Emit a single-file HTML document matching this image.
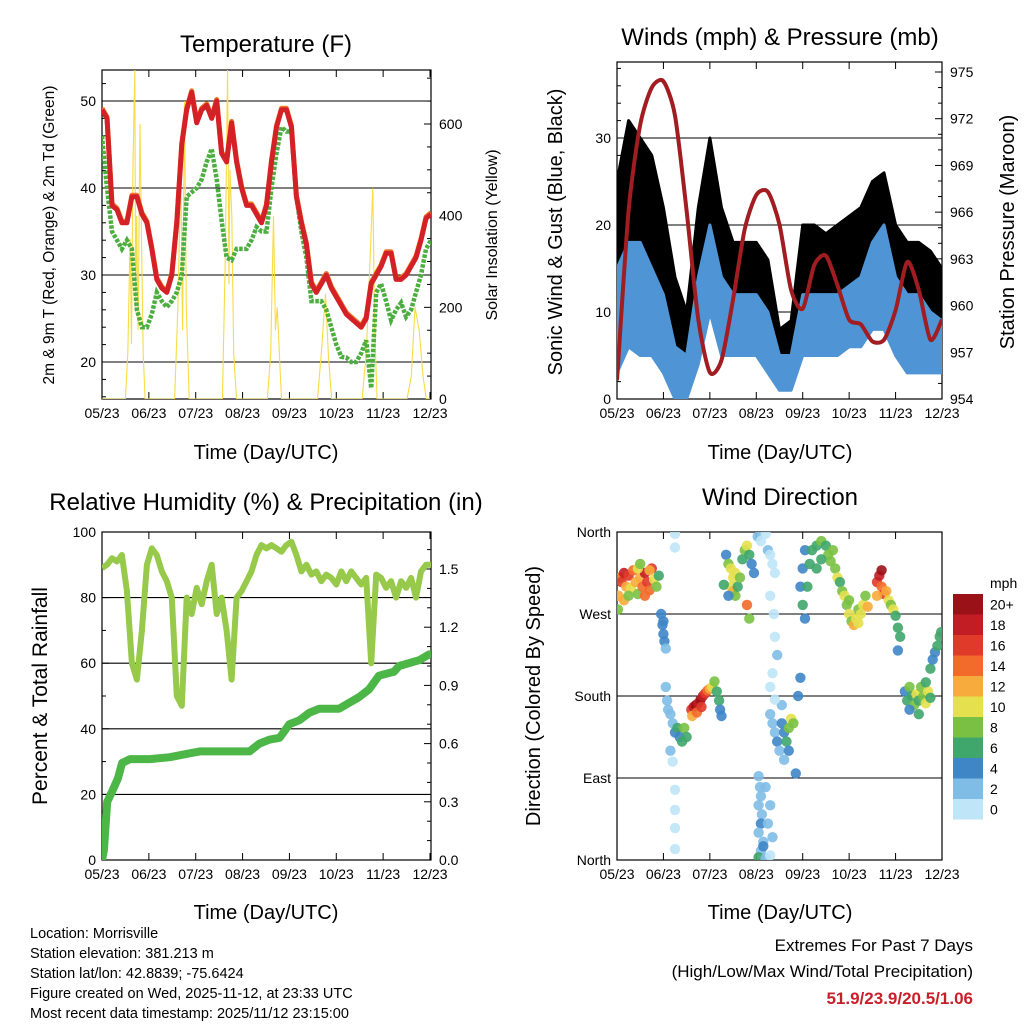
<!DOCTYPE html>
<html><head><meta charset="utf-8"><style>
html,body{margin:0;padding:0;background:#fff;}
svg{display:block;font-family:"Liberation Sans",sans-serif;}
</style></head><body>
<svg id="s" width="1024" height="1024" viewBox="0 0 1024 1024" xmlns="http://www.w3.org/2000/svg">
<defs>
<clipPath id="c1"><rect x="102" y="70" width="329" height="329"/></clipPath>
<clipPath id="c2"><rect x="617" y="62" width="325" height="337"/></clipPath>
<clipPath id="c3"><rect x="102" y="532" width="329" height="328"/></clipPath>
<clipPath id="c4"><rect x="617" y="532" width="325" height="328"/></clipPath>
</defs>
<g font-size="24" text-anchor="middle" fill="#000">
<text x="266" y="52">Temperature (F)</text>
<text x="780" y="45">Winds (mph) &amp; Pressure (mb)</text>
<text x="266" y="510">Relative Humidity (%) &amp; Precipitation (in)</text>
<text x="780" y="505">Wind Direction</text>
</g>
<g font-size="20" text-anchor="middle">
<text x="266" y="459">Time (Day/UTC)</text>
<text x="780" y="459">Time (Day/UTC)</text>
<text x="266" y="919">Time (Day/UTC)</text>
<text x="780" y="919">Time (Day/UTC)</text>
<text transform="translate(54,235) rotate(-90)" font-size="15.5">2m &amp; 9m T (Red, Orange) &amp; 2m Td (Green)</text>
<text transform="translate(497,235) rotate(-90)" font-size="16">Solar Insolation (Yellow)</text>
<text transform="translate(562,232) rotate(-90)">Sonic Wind &amp; Gust (Blue, Black)</text>
<text transform="translate(1014,232) rotate(-90)">Station Pressure (Maroon)</text>
<text transform="translate(47,696) rotate(-90)" font-size="21">Percent &amp; Total Rainfall</text>
<text transform="translate(540,696) rotate(-90)">Direction (Colored By Speed)</text>
</g>
<g font-size="14.5">
<text x="30" y="938">Location: Morrisville</text>
<text x="30" y="958">Station elevation: 381.213 m</text>
<text x="30" y="978">Station lat/lon: 42.8839; -75.6424</text>
<text x="30" y="998">Figure created on Wed, 2025-11-12, at 23:33 UTC</text>
<text x="30" y="1018">Most recent data timestamp: 2025/11/12 23:15:00</text>
</g>
<g font-size="17" text-anchor="end">
<text x="973" y="951">Extremes For Past 7 Days</text>
<text x="973" y="977">(High/Low/Max Wind/Total Precipitation)</text>
<text x="973" y="1004" fill="#c8202a" font-weight="bold">51.9/23.9/20.5/1.06</text>
</g>
</svg>
<script>
// ---------- DATA ----------
const xTickLabels = ["05/23","06/23","07/23","08/23","09/23","10/23","11/23","12/23"];
const sampleStep = 5/47; // days between samples
const tempRed = [49,48,38,37.5,36,36,39,39,37,36,33,29.5,28.5,28,30,36,45,49,51,47.5,49,49.5,48,50,44,43,47.5,43,40,38,38,37,36,38,43,47,49,49,47,39,36,33.5,29,28,29,30,28.5,27.5,26.5,25.5,25,24.5,24,25,29,30,31,32.5,32.5,29.5,29.5,30,31,32,34,36.5,37];
const dewGreen = [46,40,35,34,33,34,33,26,24,24,25.5,28,27,26.3,27,28,30,39,39.5,40,41,43,44.5,41,36.3,32,31.7,33,33,33,34,35.5,35,35,40,44,47,46.5,46.5,39,35,32,27,27,27,26,24,22,20.6,20.5,20,20,21,22.5,17,28,29,27,24.8,26,26.8,25.2,26,28,30,33,34];
const solarDays = [0,0.5,0.55,0.6,0.63,0.66,0.7,0.72,0.74,0.77,0.81,0.85,0.88,0.92,1.55,1.62,1.68,1.72,1.76,1.8,1.86,2.57,2.63,2.68,2.71,2.73,2.77,2.81,2.87,3.53,3.6,3.66,3.7,3.74,3.83,4.6,4.68,4.77,4.83,4.9,5.55,5.64,5.7,5.78,5.82,5.87,6.51,6.6,6.68,6.77,6.85,6.92,7];
const solarVals = [0,0,100,350,120,500,720,200,400,150,600,300,100,0,0,200,500,150,650,200,0,0,300,720,250,500,400,100,0,0,100,400,150,200,0,0,100,230,100,0,0,100,250,460,150,0,0,50,200,150,50,0,0];
const tempTicks = [20,30,40,50];
const solarTicks = [0,200,400,600];

const windStep = 0.25;
const gustLo = [10,15,15,15,10,4,3,10,18,10,8,8,8,6,3,3,8,8,8,8,10,10,12,12,10,6,6,6,6];
const gustHi = [25,32,30,28,22,14,10,22,30,22,18,18,18,16,8,9,20,20,19,20,21,22,25,26,20,18,18,17,15];
const windLo = [3,6,5,5,3,0,0,4,10,5,5,5,5,3,1,1,5,5,5,5,6,6,8,8,5,3,3,3,3];
const windHi = [15,18,18,15,12,6,5,14,20,14,12,12,12,10,5,5,12,12,12,12,13,14,18,20,14,12,12,10,9];
const pressure = [955.2,966.1,971.6,974.0,974.4,972.2,966.1,959.1,955.7,956.5,960.4,964.9,967.1,967.3,965.2,961.0,959.8,962.6,963.2,961.3,959.1,958.8,957.7,957.8,959.7,962.8,961.0,957.8,959.1];
const windTicks = [0,10,20,30];
const pressTicks = [954,957,960,963,966,969,972,975];

const rhVals = [89,90,92,91,93,82,60,55,70,90,95,93,88,85,80,50,47,80,75,83,78,85,90,75,80,70,55,80,82,85,88,93,96,95,96,95,94,96,97,93,88,90,87,88,85,87,86,84,88,85,88,86,84,86,60,87,86,83,85,80,85,83,86,80,88,90,90];
const precipDays = [0,0.04,0.11,0.21,0.34,0.43,0.6,1.02,1.45,1.87,2.09,3.15,3.36,3.57,3.79,4.0,4.21,4.43,4.64,5.06,5.49,5.7,5.91,6.23,6.34,6.77,6.98];
const precipVals = [0,0.05,0.3,0.35,0.42,0.5,0.52,0.52,0.53,0.55,0.56,0.56,0.6,0.62,0.63,0.7,0.72,0.76,0.78,0.78,0.84,0.88,0.95,0.97,1.0,1.03,1.06];
const rhTicks = [0,20,40,60,80,100];
const precipTicks = ["0.0","0.3","0.6","0.9","1.2","1.5"];

const dirPoints = [
[0.05,310,14],[0.1,305,16],[0.15,315,18],[0.2,300,12],[0.25,312,16],[0.3,298,10],[0.35,318,14],[0.4,305,12],[0.45,292,8],[0.5,310,12],[0.55,300,14],[0.6,315,18],[0.65,305,16],[0.7,296,14],[0.75,320,16],[0.8,308,10],[0.85,300,8],[0.9,312,6],[0.02,275,8],[0.03,290,12],[0.15,285,12],[0.25,290,8],[0.45,320,10],[0.6,290,14],[0.7,318,12],[0.5,325,8],
[0.95,270,4],[0.98,258,4],[1.0,248,4],[1.02,240,4],[1.05,232,2],[1.0,262,4],
[1.25,358,0],[1.25,343,0],[1.25,77,0],[1.25,55,0],[1.25,35,0],[1.25,12,0],
[1.05,190,2],[1.08,175,2],[1.1,165,2],[1.15,160,2],[1.2,150,2],[1.25,140,4],[1.3,145,6],[1.35,135,4],[1.4,130,6],[1.45,145,8],[1.5,135,6],[1.15,120,2],[1.2,108,0],
[1.6,165,16],[1.65,168,18],[1.7,170,20],[1.75,172,18],[1.8,176,20],[1.85,180,18],[1.9,183,16],[1.95,186,14],[2.0,188,12],[2.05,190,10],[1.62,158,12],[1.72,162,14],[1.82,168,16],
[2.1,196,8],[2.15,185,6],[2.2,175,6],[2.22,165,4],[2.25,158,4],
[2.35,335,4],[2.4,325,8],[2.45,320,10],[2.5,310,10],[2.55,315,10],[2.45,300,10],[2.5,295,12],[2.55,290,8],[2.6,300,6],[2.65,310,8],[2.7,330,6],[2.75,340,8],[2.8,345,10],[2.85,335,6],[2.9,325,4],[2.95,315,4],[2.8,280,14],[2.85,265,8],[2.4,290,4],[2.3,302,6],
[3.03,355,2],[3.1,350,0],[3.2,358,0],[3.25,340,2],[3.3,335,0],[3.35,325,0],[3.4,315,0],[3.3,290,0],[3.38,270,0],[3.4,245,0],[3.45,225,2],[3.35,205,0],[3.3,190,0],[3.05,92,2],[3.08,80,2],[3.1,70,2],[3.05,60,2],[3.12,50,2],[3.1,40,4],[3.05,30,2],[3.15,20,2],[3.1,10,2],[3.05,3,6],[3.2,2,2],[3.3,60,2],[3.25,40,2],[3.35,25,2],[3.2,80,2],[3.3,5,0],[3.15,15,4],
[3.3,160,2],[3.35,150,2],[3.4,140,2],[3.45,130,4],[3.5,120,2],[3.55,150,4],[3.6,140,4],[3.65,130,6],[3.7,145,8],[3.75,155,10],[3.8,150,8],[3.7,120,4],[3.6,110,2],[3.55,170,2],[3.85,95,4],[3.9,180,4],[3.4,176,0],
[3.95,300,4],[4.0,320,4],[4.05,340,4],[4.0,280,6],[4.05,265,4],[4.1,300,6],[4.15,325,6],[4.2,340,6],[4.3,345,6],[4.4,350,8],[4.5,345,6],[4.55,335,8],[4.6,328,8],[4.7,320,8],[4.75,310,10],[4.8,305,6],[4.85,295,8],[4.4,330,6],[4.3,320,6],[4.65,340,8],[3.95,200,4],
[4.9,290,10],[4.95,280,8],[5.0,270,10],[5.05,262,8],[5.1,258,12],[5.15,265,10],[5.2,275,8],[5.25,270,10],[5.3,280,10],[5.35,290,8],[5.4,278,12],[5.0,285,8],[5.2,260,10],
[5.6,305,16],[5.65,312,18],[5.7,300,14],[5.75,292,16],[5.8,295,12],[5.85,285,10],[5.9,280,8],[5.95,275,10],[5.7,318,20],[5.6,290,12],
[6.0,268,6],[6.05,255,6],[6.1,245,6],[6.05,230,4],
[6.2,185,4],[6.25,175,6],[6.3,190,8],[6.35,180,6],[6.4,170,8],[6.45,182,10],[6.5,175,6],[6.55,190,8],[6.6,180,8],[6.65,172,10],[6.7,185,10],[6.75,178,6],[6.5,160,6],[6.65,195,6],[6.3,165,4],
[6.75,210,6],[6.8,220,4],[6.85,228,4],[6.9,235,6],[6.95,245,6],[6.98,250,6]];
const dirTicks = ["North","East","South","West","North"];
const speedBins = ["0","2","4","6","8","10","12","14","16","18","20+"];
const speedColors = ["#bfe6f8","#7fbde6","#3f86c6","#3fa66c","#7ac143","#e4e04e","#f7ab3c","#f26b2a","#e03a2b","#c21d24","#9a1217"];

// ---------- HELPERS ----------
const S = document.getElementById('s');
const NS = 'http://www.w3.org/2000/svg';
function mk(tag, attrs, parent){ const e=document.createElementNS(NS,tag); for(const k in attrs) e.setAttribute(k,attrs[k]); (parent||S).appendChild(e); return e; }
function lin(d0,d1,r0,r1){ return v => r0+(v-d0)/(d1-d0)*(r1-r0); }
function pathOf(xs, ys){ return xs.map((x,i)=>(i?'L':'M')+x.toFixed(1)+','+ys[i].toFixed(1)).join(''); }

function frame(x0,y0,x1,y1,xs,name){
  const g = mk('g',{});
  
  
  mk('rect',{x:x0,y:y0,width:x1-x0,height:y1-y0,fill:'none',stroke:'#000','stroke-width':1.2},g);
  xTickLabels.forEach((lab,i)=>{
    const x = xs(i);
    mk('line',{x1:x,x2:x,y1:y1,y2:y1-7,stroke:'#000'},g);
    mk('line',{x1:x,x2:x,y1:y0,y2:y0+7,stroke:'#000'},g);
    const t = mk('text',{x:x,y:y1+19,'font-size':14,'text-anchor':'middle'},g);
    t.textContent = lab;
    
    
  });
  return g;
}
function yAxis(g, ticks, ys, side, x, labels, minor){
  ticks.forEach((v,i)=>{
    const y = ys(v);
    mk('line',{x1:x,x2:x+(side==='l'?7:-7),y1:y,y2:y,stroke:'#000'},g);
    const t = mk('text',{x: side==='l'? x-6 : x+8, y:y+5,'font-size':14,'text-anchor':side==='l'?'end':'start'},g);
    t.textContent = labels ? labels[i] : v;
    
    
  });
  if(minor) minor.forEach(v=>{ const y=ys(v); mk('line',{x1:x,x2:x+(side==='l'?4:-4),y1:y,y2:y,stroke:'#000'},g); });
}
function grid(g, ticks, ys, x0, x1){
  ticks.forEach(v=>{ const y=ys(v); mk('line',{x1:x0,x2:x1,y1:y,y2:y,stroke:'#000','stroke-width':1.1},g); });
}

// ---------- PANEL 1: TEMPERATURE ----------
{
  const xs = lin(0,7,102,430), yT = lin(20,50,362,101), yS = lin(0,600,399,124);
  const g = frame(102,70,431,399, d=>xs(d), 'temperature');
  const gd = mk('g',{'clip-path':'url(#c1)'});
  
  
  grid(gd,tempTicks,yT,102,431);
  const sol = mk('path',{d:pathOf(solarDays.map(xs), solarVals.map(yS)),fill:'none',stroke:'#f7dc45','stroke-width':1.1},gd);
  
  
  const tx = tempRed.map((v,i)=>xs(i*sampleStep));
  const dx = dewGreen.map((v,i)=>xs(i*sampleStep));
  const dw = mk('path',{d:pathOf(dx, dewGreen.map(yT)),fill:'none',stroke:'#4cae3f','stroke-width':4.5,'stroke-dasharray':'3.5 1.5'},gd);
  
  
  const or = mk('path',{d:pathOf(tx, tempRed.map(v=>yT(v)-1.5)),fill:'none',stroke:'#f07c2a','stroke-width':5,'stroke-linejoin':'round'},gd);
  
  
  const rd = mk('path',{d:pathOf(tx, tempRed.map(yT)),fill:'none',stroke:'#d42027','stroke-width':5,'stroke-linejoin':'round'},gd);
  
  
  const minorT=[]; for(let v=16;v<=53;v+=2) if(v%10) minorT.push(v);
  yAxis(g,tempTicks,yT,'l',102,null,minorT);
  const minorS=[]; for(let v=50;v<=700;v+=50) if(v%200) minorS.push(v);
  yAxis(g,solarTicks,yS,'r',431,null,minorS);
}
// ---------- PANEL 2: WINDS ----------
{
  const xs = lin(0,7,617,942), yW = lin(0,30,399,138), yP = lin(954,975,399,72);
  const g = frame(617,62,942,399, d=>xs(d), 'winds');
  const gd = mk('g',{'clip-path':'url(#c2)'});
  
  
  grid(gd,windTicks,yW,617,942);
  const wx = gustLo.map((v,i)=>xs(i*windStep));
  const band=(lo,hi,col,name)=>{
    const d = pathOf(wx, hi.map(yW)) + pathOf(wx.slice().reverse(), lo.map(yW).reverse()).replace('M','L') + 'Z';
    const p = mk('path',{d:d,fill:col,stroke:col,'stroke-width':3,'stroke-linejoin':'round'},gd);
    
    
  };
  band(gustLo,gustHi,'#000','gust-points');
  band(windLo,windHi,'#4f94d4','wind-speed-points');
  const px = pressure.map((v,i)=>xs(i*windStep)), py = pressure.map(yP);
  let d='M'+px[0]+','+py[0];
  const k = 8;
  for(let i=0;i<px.length-1;i++){
    const p0=i?i-1:i, p3=i+2<px.length?i+2:i+1;
    const c1x=px[i]+(px[i+1]-px[p0])/k, c1y=py[i]+(py[i+1]-py[p0])/k;
    const c2x=px[i+1]-(px[p3]-px[i])/k, c2y=py[i+1]-(py[p3]-py[i])/k;
    d+=`C${c1x.toFixed(1)},${c1y.toFixed(1)} ${c2x.toFixed(1)},${c2y.toFixed(1)} ${px[i+1].toFixed(1)},${py[i+1].toFixed(1)}`;
  }
  const pr = mk('path',{d:d,fill:'none',stroke:'#a11d21','stroke-width':4},gd);
  
  
  const mW=[]; for(let v=2;v<=38;v+=2) if(v%10) mW.push(v);
  yAxis(g,windTicks,yW,'l',617,null,mW);
  const mP=[]; for(let v=954;v<=975;v++) if((v-954)%3) mP.push(v);
  yAxis(g,pressTicks,yP,'r',942,null,mP);
}
// ---------- PANEL 3: HUMIDITY ----------
{
  const xs = lin(0,7,102,430), yR = lin(0,100,860,532), yQ = lin(0,1.5,860,569);
  const g = frame(102,532,431,860, d=>xs(d), 'humidity');
  const gd = mk('g',{'clip-path':'url(#c3)'});
  
  
  grid(gd,rhTicks,yR,102,431);
  const rh = mk('path',{d:pathOf(rhVals.map((v,i)=>xs(i*sampleStep)), rhVals.map(yR)),fill:'none',stroke:'#97c94b','stroke-width':6,'stroke-linejoin':'round'},gd);
  
  
  const pp = mk('path',{d:pathOf(precipDays.map(xs), precipVals.map(yQ)),fill:'none',stroke:'#4cb647','stroke-width':8,'stroke-linejoin':'round','stroke-linecap':'round'},gd);
  
  
  const mR=[]; for(let v=10;v<100;v+=10) if(v%20) mR.push(v);
  yAxis(g,rhTicks,yR,'l',102,null,mR);
  const mQ=[]; for(let v=0.1;v<1.7;v+=0.1){ const r=Math.round(v*10); if(r%3) mQ.push(r/10); }
  yAxis(g,precipTicks.map(Number),yQ,'r',431,precipTicks,mQ);
}
// ---------- PANEL 4: WIND DIRECTION ----------
{
  const xs = lin(0,7,617,942), yD = lin(0,360,860,532);
  const g = frame(617,532,942,860, d=>xs(d), 'direction');
  const gd = mk('g',{'clip-path':'url(#c4)'});
  
  
  grid(gd,[0,90,180,270,360],yD,617,942);
  dirPoints.forEach(p=>{
    const bin = Math.min(10, Math.round(p[2]/2));
    const c = mk('circle',{cx:xs(p[0]).toFixed(1),cy:yD(p[1]).toFixed(1),r:5.2,fill:speedColors[bin],'fill-opacity':0.9},gd);
    
    
  });
  yAxis(g,[0,90,180,270,360],yD,'l',617,dirTicks,null);
  const cb = mk('g',{});
  
  
  const h=20.5, top=594;
  const t0 = mk('text',{x:990,y:588,'font-size':14},cb); t0.textContent='mph';
  speedBins.slice().reverse().forEach((lab,i)=>{
    const col = speedColors[speedColors.length-1-i];
    mk('rect',{x:953,y:top+i*h,width:30,height:h,fill:col},cb);
    const t = mk('text',{x:990,y:top+i*h+h/2+5,'font-size':14},cb);
    t.textContent=lab;
    
    
  });
}
</script>
</body></html>
